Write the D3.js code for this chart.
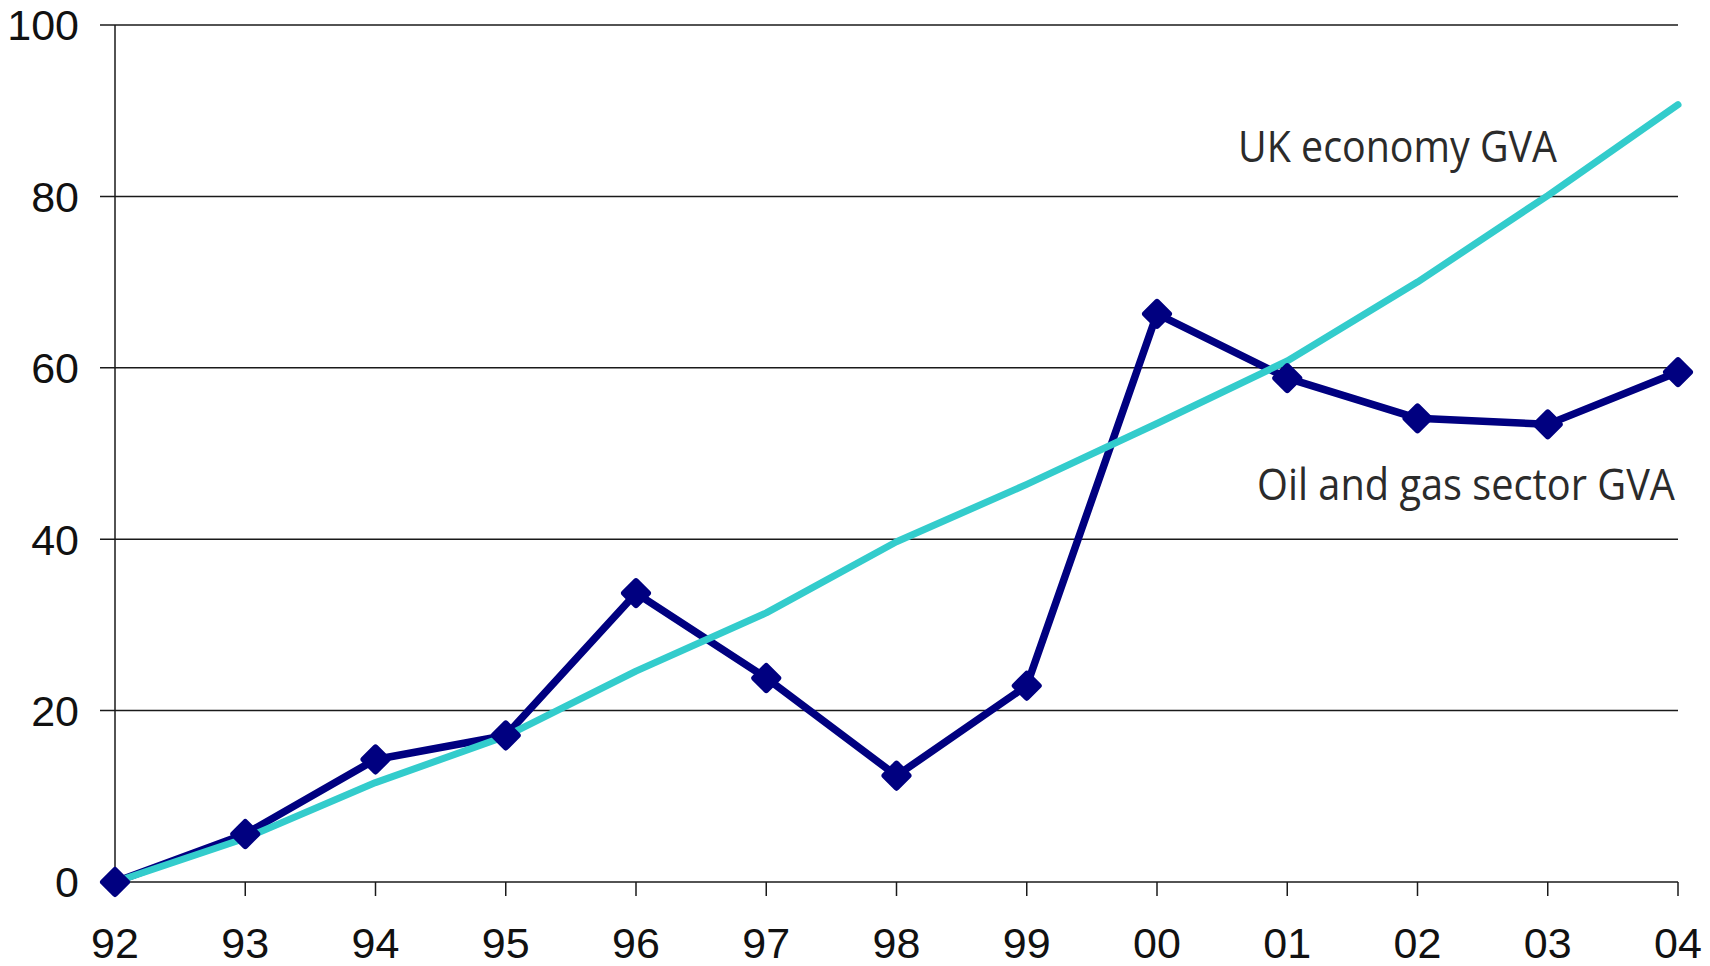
<!DOCTYPE html>
<html>
<head>
<meta charset="utf-8">
<script src="https://cdn.jsdelivr.net/npm/d3@7"></script>
<style>
html,body{margin:0;padding:0;background:#fff;}
svg{display:block;}
</style>
</head>
<body>
<svg id="chart" width="1710" height="966"></svg>
<script>
const years = ["92","93","94","95","96","97","98","99","00","01","02","03","04"];
const oilGas = [0, 5.6, 14.3, 17.1, 33.7, 23.8, 12.4, 22.9, 66.3, 58.8, 54.1, 53.4, 59.5];
const ukEconomy = [0, 5.1, 11.6, 17.0, 24.6, 31.4, 39.7, 46.4, 53.5, 60.8, 70.0, 80.1, 90.7];
const yTicks = [0, 20, 40, 60, 80, 100];
const seriesLabels = ["UK economy GVA", "Oil and gas sector GVA"];

const svg = d3.select("#chart");
const x = d3.scalePoint().domain(years).range([115, 1678]);
const y = d3.scaleLinear().domain([0, 100]).range([882, 25]);

// gridlines (extending left as ticks)
svg.append("g").selectAll("line").data(yTicks).join("line")
  .attr("x1", 100).attr("x2", x("04"))
  .attr("y1", d => y(d)).attr("y2", d => y(d))
  .attr("stroke", "#1a1a1a").attr("stroke-width", 1.5);

// y axis line
svg.append("line").attr("x1", x("92")).attr("x2", x("92"))
  .attr("y1", y(100)).attr("y2", y(0))
  .attr("stroke", "#1a1a1a").attr("stroke-width", 1.5);

// y tick labels
svg.append("g").selectAll("text").data(yTicks).join("text")
  .attr("x", 79).attr("y", d => y(d))
  .attr("dy", "0.36em")
  .attr("text-anchor", "end")
  .attr("font-family", "Liberation Sans, Arial, sans-serif")
  .attr("font-size", 43)
  .attr("fill", "#111")
  .text(d => d);

// x axis ticks
svg.append("g").selectAll("line").data(years.slice(1)).join("line")
  .attr("x1", d => x(d)).attr("x2", d => x(d))
  .attr("y1", y(0)).attr("y2", y(0) + 14)
  .attr("stroke", "#1a1a1a").attr("stroke-width", 1.5);

// x tick labels
svg.append("g").selectAll("text").data(years).join("text")
  .attr("x", d => x(d)).attr("y", 958)
  .attr("text-anchor", "middle")
  .attr("font-family", "Liberation Sans, Arial, sans-serif")
  .attr("font-size", 43)
  .attr("fill", "#111")
  .text(d => d);

const line = d3.line().x((d, i) => x(years[i])).y(d => y(d));

// oil and gas line
svg.append("path").datum(oilGas)
  .attr("d", line)
  .attr("fill", "none").attr("stroke", "#000080")
  .attr("stroke-width", 7.5).attr("stroke-linejoin", "round");

// UK economy line
svg.append("path").datum(ukEconomy)
  .attr("d", line)
  .attr("fill", "none").attr("stroke", "#33CCCC")
  .attr("stroke-width", 7).attr("stroke-linejoin", "round").attr("stroke-linecap", "round");

// oil markers (diamonds)
const s = 12;
svg.append("g").selectAll("path").data(oilGas).join("path")
  .attr("transform", (d, i) => `translate(${x(years[i])},${y(d)})`)
  .attr("d", `M0,${-s}L${s},0L0,${s}L${-s},0Z`)
  .attr("fill", "#000080").attr("stroke", "#000080")
  .attr("stroke-width", 6).attr("stroke-linejoin", "round");

// series labels
svg.append("text")
  .attr("x", 1238).attr("y", 162)
  .attr("font-family", "Open Sans, Noto Sans, sans-serif")
  .attr("font-size", 43)
  .attr("fill", "#2b2b2b")
  .attr("textLength", 319).attr("lengthAdjust", "spacingAndGlyphs")
  .text(seriesLabels[0]);

svg.append("text")
  .attr("x", 1257).attr("y", 500)
  .attr("font-family", "Open Sans, Noto Sans, sans-serif")
  .attr("font-size", 43)
  .attr("fill", "#2b2b2b")
  .attr("textLength", 418).attr("lengthAdjust", "spacingAndGlyphs")
  .text(seriesLabels[1]);
</script>
</body>
</html>
